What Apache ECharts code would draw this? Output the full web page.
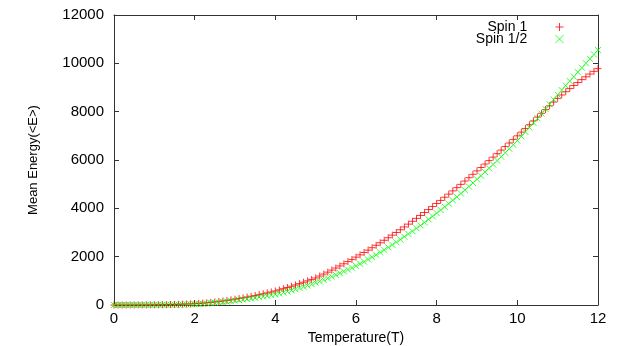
<!DOCTYPE html>
<html>
<head>
<meta charset="utf-8">
<script src="https://cdn.jsdelivr.net/npm/echarts@6/dist/echarts.min.js"></script>
<style>
  html, body { margin: 0; padding: 0; background: #fff; }
  #chart { width: 623px; height: 346px; }
</style>
</head>
<body>
<div id="chart"></div>
<script>
// temperature grid, one point every 0.1
const temps = [
  0.0, 0.1, 0.2, 0.3, 0.4, 0.5, 0.6, 0.7, 0.8, 0.9,
  1.0, 1.1, 1.2, 1.3, 1.4, 1.5, 1.6, 1.7, 1.8, 1.9,
  2.0, 2.1, 2.2, 2.3, 2.4, 2.5, 2.6, 2.7, 2.8, 2.9,
  3.0, 3.1, 3.2, 3.3, 3.4, 3.5, 3.6, 3.7, 3.8, 3.9,
  4.0, 4.1, 4.2, 4.3, 4.4, 4.5, 4.6, 4.7, 4.8, 4.9,
  5.0, 5.1, 5.2, 5.3, 5.4, 5.5, 5.6, 5.7, 5.8, 5.9,
  6.0, 6.1, 6.2, 6.3, 6.4, 6.5, 6.6, 6.7, 6.8, 6.9,
  7.0, 7.1, 7.2, 7.3, 7.4, 7.5, 7.6, 7.7, 7.8, 7.9,
  8.0, 8.1, 8.2, 8.3, 8.4, 8.5, 8.6, 8.7, 8.8, 8.9,
  9.0, 9.1, 9.2, 9.3, 9.4, 9.5, 9.6, 9.7, 9.8, 9.9,
  10.0, 10.1, 10.2, 10.3, 10.4, 10.5, 10.6, 10.7, 10.8, 10.9,
  11.0, 11.1, 11.2, 11.3, 11.4, 11.5, 11.6, 11.7, 11.8, 11.9,
  12.0
];

const spin1 = [
  0, 0, 0, 0, 1, 1, 2, 3, 4, 6,
  8, 10, 13, 16, 20, 24, 29, 34, 40, 47,
  55, 65, 77, 91, 107, 125, 144, 165, 188, 213,
  240, 268, 298, 329, 361, 394, 429, 465, 502, 540,
  580, 626, 674, 724, 776, 829, 884, 941, 999, 1059,
  1120, 1198, 1278, 1360, 1444, 1530, 1617, 1706, 1796, 1887,
  1980, 2075, 2172, 2270, 2370, 2471, 2574, 2678, 2784, 2891,
  3000, 3114, 3229, 3346, 3464, 3584, 3705, 3827, 3950, 4074,
  4200, 4328, 4458, 4589, 4722, 4856, 4992, 5129, 5268, 5408,
  5550, 5690, 5832, 5975, 6119, 6264, 6410, 6557, 6704, 6852,
  7000, 7152, 7306, 7461, 7617, 7774, 7931, 8087, 8242, 8396,
  8550, 8690, 8825, 8955, 9082, 9206, 9326, 9443, 9557, 9669,
  9780
];

const spinHalf = [
  0, 0, 0, 0, 0, 1, 1, 2, 3, 4,
  5, 6, 7, 9, 11, 13, 16, 19, 23, 29,
  35, 43, 53, 64, 77, 91, 107, 124, 142, 162,
  185, 205, 226, 249, 273, 298, 324, 351, 379, 408,
  440, 478, 518, 561, 606, 653, 702, 753, 806, 862,
  920, 980, 1042, 1107, 1174, 1244, 1316, 1390, 1465, 1542,
  1620, 1706, 1794, 1885, 1979, 2076, 2176, 2279, 2384, 2491,
  2600, 2710, 2823, 2938, 3055, 3174, 3295, 3418, 3543, 3671,
  3800, 3930, 4062, 4196, 4333, 4472, 4613, 4756, 4902, 5050,
  5200, 5350, 5502, 5657, 5815, 5975, 6137, 6301, 6466, 6632,
  6800, 6980, 7163, 7349, 7537, 7727, 7918, 8111, 8306, 8502,
  8700, 8890, 9078, 9265, 9451, 9636, 9820, 10003, 10186, 10368,
  10550
];

const seriesNames = ['Spin 1', 'Spin 1/2'];
const xTicks = { min: 0, max: 12, interval: 2 };
const yTicks = { min: 0, max: 12000, interval: 2000 };

const plusPath = 'path://M0,5L10,5M5,0L5,10';
const crossPath = 'path://M0,0L10,10M0,10L10,0';
const red = '#ff0000';
const green = '#00ff00';
const frame = '#333333';
const font = 'Liberation Sans, Arial, Helvetica, sans-serif';

const tickStyle = { show: true, inside: true, length: 5, lineStyle: { color: frame, width: 1 } };

const makeAxis = (range, position, withLabels, extra) => Object.assign({
  type: 'value',
  position,
  min: range.min,
  max: range.max,
  interval: range.interval,
  axisLine: { show: true, onZero: false, lineStyle: { color: frame, width: 1 } },
  axisTick: tickStyle,
  splitLine: { show: false },
  axisLabel: withLabels
    ? { show: true, color: '#000', fontFamily: font, fontSize: 15, formatter: v => String(v) }
    : { show: false }
}, extra || {});

const chart = echarts.init(document.getElementById('chart'), null, { renderer: 'canvas' });

chart.setOption({
  backgroundColor: '#ffffff',
  animation: false,
  textStyle: { fontFamily: font },
  grid: { left: 114, right: 25, top: 15, bottom: 41, outerBoundsMode: 'none' },
  legend: {
    orient: 'vertical',
    right: 54,
    top: 15,
    align: 'right',
    itemWidth: 8,
    itemHeight: 8,
    itemGap: -2,
    selectedMode: false,
    // gnuplot leaves a wide gap between key text and its sample
    formatter: name => name + '      ',
    textStyle: { color: '#000', fontFamily: font, fontSize: 14 },
    data: [
      { name: seriesNames[0], icon: plusPath, itemStyle: { color: 'transparent', borderColor: red, borderWidth: 1 } },
      { name: seriesNames[1], icon: crossPath, itemStyle: { color: 'transparent', borderColor: green, borderWidth: 1 } }
    ]
  },
  xAxis: [
    makeAxis(xTicks, 'bottom', true, {
      name: 'Temperature(T)',
      nameLocation: 'middle',
      nameGap: 23,
      nameTextStyle: { color: '#000', fontFamily: font, fontSize: 14 },
      axisLabel: { show: true, color: '#000', fontFamily: font, fontSize: 15, margin: 6 }
    }),
    makeAxis(xTicks, 'top', false)
  ],
  yAxis: [
    makeAxis(yTicks, 'left', true, {
      name: 'Mean Energy(<E>)',
      nameLocation: 'middle',
      nameRotate: 90,
      nameGap: 74,
      nameTextStyle: { color: '#000', fontFamily: font, fontSize: 13 },
      axisLabel: { show: true, color: '#000', fontFamily: font, fontSize: 15, margin: 10, formatter: v => String(v) }
    }),
    makeAxis(yTicks, 'right', false)
  ],
  series: [
    {
      name: seriesNames[0],
      type: 'scatter',
      symbol: plusPath,
      symbolSize: 7,
      silent: true,
      itemStyle: { color: 'transparent', borderColor: red, borderWidth: 1 },
      data: temps.map((t, i) => [t, spin1[i]])
    },
    {
      name: seriesNames[1],
      type: 'scatter',
      symbol: crossPath,
      symbolSize: 6,
      silent: true,
      itemStyle: { color: 'transparent', borderColor: green, borderWidth: 1 },
      data: temps.map((t, i) => [t, spinHalf[i]])
    }
  ]
});
</script>
</body>
</html>
